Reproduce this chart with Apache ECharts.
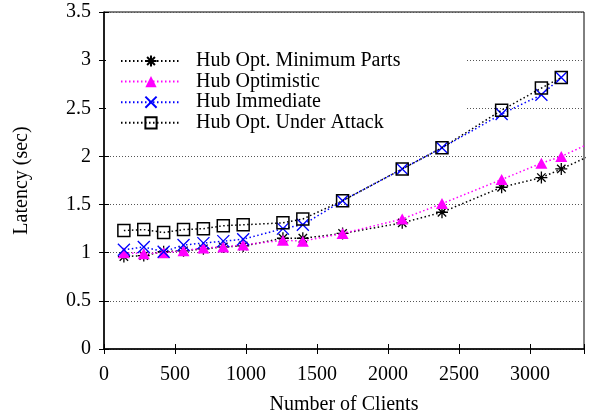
<!DOCTYPE html>
<html>
<head>
<meta charset="utf-8">
<script src="https://cdn.jsdelivr.net/npm/echarts@6/dist/echarts.min.js"></script>
<style>
html,body{margin:0;padding:0;background:#fff;}
#chart{width:590px;height:414px;}
</style>
</head>
<body>
<div id="chart"></div>
<script>
// ---- data ----
const clients = [140, 280, 420, 560, 700, 840, 980, 1260, 1400, 1680, 2100, 2380, 2800, 3080, 3220];
const minParts    = [0.96, 0.97, 1.01, 1.02, 1.04, 1.06, 1.07, 1.15, 1.15, 1.20, 1.31, 1.42, 1.68, 1.78, 1.87];
const optimistic  = [1.00, 0.99, 1.00, 1.02, 1.05, 1.06, 1.08, 1.13, 1.12, 1.20, 1.35, 1.51, 1.76, 1.93, 2.00];
const immediate   = [1.03, 1.06, 1.01, 1.08, 1.10, 1.12, 1.14, 1.25, 1.29, 1.54, 1.87, 2.09, 2.44, 2.64, 2.82];
const underAttack = [1.23, 1.24, 1.21, 1.24, 1.25, 1.28, 1.29, 1.31, 1.35, 1.54, 1.87, 2.09, 2.48, 2.71, 2.82];
// lines of two series continue past the right edge (next point lies off the visible range)
const tailClient = 3500;
const minPartsTail = 2.06;
const optimisticTail = 2.19;
const seriesNames = ['Hub Opt. Minimum Parts', 'Hub Optimistic', 'Hub Immediate', 'Hub Opt. Under Attack'];
const xTicks = [0, 500, 1000, 1500, 2000, 2500, 3000];
const yTicks = [0, 0.5, 1, 1.5, 2, 2.5, 3, 3.5];

const FONT = 'Liberation Serif';
function pairs(ys, tailX, tailY) {
  const d = clients.map((x, i) => [x, ys[i]]);
  if (tailX !== undefined) d.push({ value: [tailX, tailY], symbol: 'none' });
  return d;
}
const ASTER = 'path://M0,5L10,5M5,0L5,10M1.5,1.5L8.5,8.5M8.5,1.5L1.5,8.5';
const CROSS = 'path://M0,0L10,10M10,0L0,10';
const SQUARE = 'path://M0,0L10,0L10,10L0,10Z';
const dots = [1.5, 2.5];

const chart = echarts.init(document.getElementById('chart'), null, { renderer: 'canvas' });
chart.setOption({
  animation: false,
  backgroundColor: '#fff',
  textStyle: { fontFamily: FONT },
  grid: { left: 104, right: 6, top: 12, bottom: 65, show: true, borderColor: '#000', borderWidth: 1,
          backgroundColor: 'transparent', containLabel: false, outerBoundsMode: 'none' },
  legend: {
    orient: 'vertical', left: 106, top: 49,
    itemWidth: 60, itemHeight: 14, itemGap: 0.6,
    backgroundColor: '#fff', padding: [2, 66, 10, 14],
    textStyle: { fontFamily: FONT, fontSize: 20, color: '#000', lineHeight: 20, padding: [0, 0, 0, 10] },
    data: seriesNames
  },
  xAxis: [{
    type: 'value', min: xTicks[0], max: 3380, interval: 500,
    name: 'Number of Clients', nameLocation: 'middle', nameGap: 46,
    nameTextStyle: { fontFamily: FONT, fontSize: 20, color: '#000' },
    axisLine: { show: true, lineStyle: { color: '#000', width: 1.5 } },
    axisTick: { show: true, inside: true, length: 5, lineStyle: { color: '#000' } },
    axisLabel: { fontFamily: FONT, fontSize: 20, color: '#000', margin: 16,
      formatter: v => (xTicks.indexOf(v) >= 0 ? String(v) : '') },
    splitLine: { show: false }
  }, {
    type: 'value', position: 'top', min: xTicks[0], max: 3380, interval: 500,
    axisLine: { show: false },
    axisTick: { show: true, inside: true, length: 5, lineStyle: { color: '#000' } },
    axisLabel: { show: false }, splitLine: { show: false }
  }],
  yAxis: [{
    type: 'value', min: yTicks[0], max: yTicks[yTicks.length - 1], interval: 0.5,
    name: 'Latency (sec)', nameLocation: 'middle', nameGap: 72,
    nameTextStyle: { fontFamily: FONT, fontSize: 20, color: '#000' },
    axisLine: { show: true, lineStyle: { color: '#000', width: 1.5 } },
    axisTick: { show: true, inside: true, length: 5, lineStyle: { color: '#000' } },
    axisLabel: { fontFamily: FONT, fontSize: 20, color: '#000', margin: 13, formatter: v => String(v) },
    splitLine: { show: true, lineStyle: { color: '#555', width: 1, type: [1, 2] } }
  }, {
    type: 'value', position: 'right', min: yTicks[0], max: yTicks[yTicks.length - 1], interval: 0.5,
    axisLine: { show: false },
    axisTick: { show: true, inside: true, length: 5, lineStyle: { color: '#000' } },
    axisLabel: { show: false }, splitLine: { show: false }
  }],
  series: [
    {
      name: seriesNames[0], type: 'line', data: pairs(minParts, tailClient, minPartsTail),
      symbol: ASTER, symbolSize: 12, showAllSymbol: true,
      lineStyle: { color: '#000', width: 1.5, type: dots },
      itemStyle: { color: 'none', borderColor: '#000', borderWidth: 1.3 },
      z: 2
    },
    {
      name: seriesNames[1], type: 'line', data: pairs(optimistic, tailClient, optimisticTail),
      symbol: 'triangle', symbolSize: [12, 11], showAllSymbol: true,
      lineStyle: { color: '#ff00ff', width: 1.5, type: dots },
      itemStyle: { color: '#ff00ff', borderWidth: 0 },
      z: 3
    },
    {
      name: seriesNames[2], type: 'line', data: pairs(immediate),
      symbol: CROSS, symbolSize: 12, showAllSymbol: true,
      lineStyle: { color: '#0000ff', width: 1.5, type: dots },
      itemStyle: { color: 'none', borderColor: '#0000ff', borderWidth: 1.3 },
      z: 4
    },
    {
      name: seriesNames[3], type: 'line', data: pairs(underAttack),
      symbol: SQUARE, symbolSize: 12, showAllSymbol: true,
      lineStyle: { color: '#000', width: 1.5, type: dots },
      itemStyle: { color: 'none', borderColor: '#000', borderWidth: 1.5 },
      z: 5
    }
  ]
});
</script>
</body>
</html>
